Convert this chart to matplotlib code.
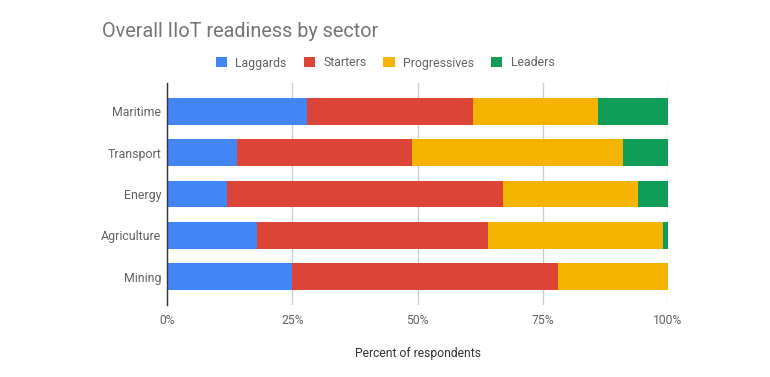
import matplotlib
matplotlib.use("Agg")
import matplotlib.pyplot as plt
from matplotlib.patches import Patch

plt.rcParams['font.family'] = ['Roboto', 'DejaVu Sans']

sectors = ["Maritime", "Transport", "Energy", "Agriculture", "Mining"]
series_names = ["Laggards", "Starters", "Progressives", "Leaders"]
laggards = [28, 14, 12, 18, 25]
starters = [33, 35, 55, 46, 53]
progressives = [25, 42, 27, 35, 22]
leaders = [14, 9, 6, 1, 0]
x_ticks = [0, 25, 50, 75, 100]
x_tick_labels = ["0%", "25%", "50%", "75%", "100%"]
colors = ["#4285F4", "#DB4437", "#F4B400", "#0F9D58"]

W, H = 770, 377
fig = plt.figure(figsize=(W / 100, H / 100), dpi=100)
ax = fig.add_axes([167 / W, 1 - 305 / H, (668 - 167) / W, (305 - 83) / H])

series = [laggards, starters, progressives, leaders]
ypos = list(range(len(sectors)))
left = [0] * len(sectors)
for vals, col, name in zip(series, colors, series_names):
    ax.barh(ypos, vals, left=left, height=0.647, color=col, label=name, linewidth=0, zorder=3)
    left = [l + v for l, v in zip(left, vals)]

ax.set_ylim(len(sectors) - 1 + 0.69, -0.69)
ax.set_xlim(0, 100)
ax.set_yticks(ypos)
ax.set_yticklabels(sectors, color="#616161", fontsize=8.9)
ax.set_xticks(x_ticks)
ax.set_xticklabels(x_tick_labels, color="#616161", fontsize=8.7)
ax.tick_params(axis='both', length=0)
ax.tick_params(axis='y', pad=4.3)
ax.tick_params(axis='x', pad=6.5)
ax.grid(axis='x', color="#cccccc", linewidth=1, zorder=0)
for s in ["top", "right", "bottom"]:
    ax.spines[s].set_visible(False)
ax.spines["left"].set_color("#333333")
ax.spines["left"].set_linewidth(1)
ax.spines["left"].set_zorder(4)

fig.text(417.5 / W, 1 - 353.5 / H, "Percent of respondents", ha="center", va="center",
         fontsize=8.7, color="#333333")

fig.text(102.5 / W, 1 - 37 / H, "Overall IIoT readiness by sector", ha="left", va="baseline",
         fontsize=14.3, color="#757575")

handles = [Patch(facecolor=c, edgecolor='none', label=n) for c, n in zip(colors, series_names)]
leg = fig.legend(handles=handles, loc="center", bbox_to_anchor=(385 / W, 1 - 63 / H), ncol=4,
                 frameon=False, fontsize=8.8, handlelength=0.93, handleheight=0.93,
                 handletextpad=0.69, columnspacing=1.37, borderaxespad=0, borderpad=0)
for t in leg.get_texts():
    t.set_color("#616161")

fig.savefig("out.png", dpi=100)
